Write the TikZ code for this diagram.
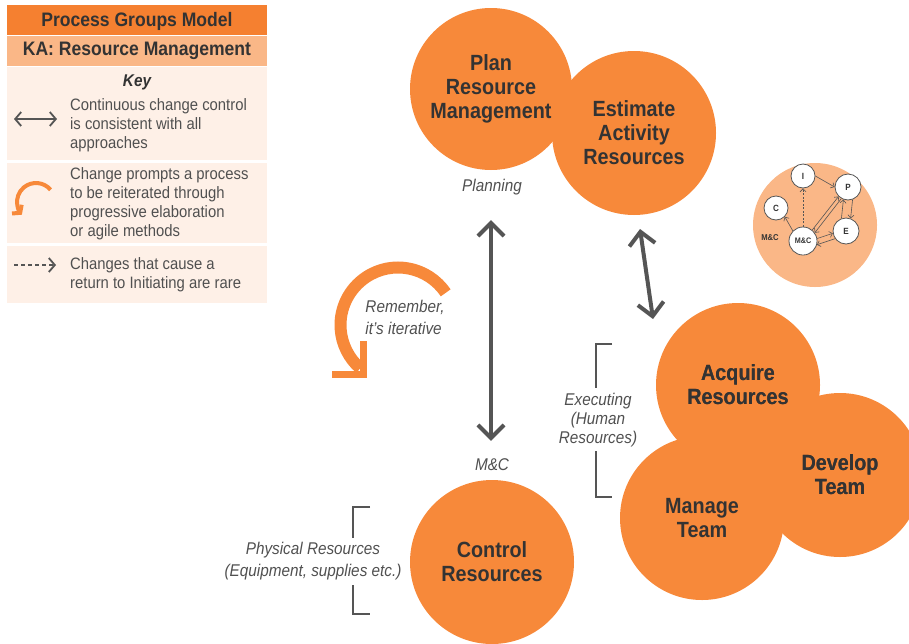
\documentclass[tikz,border=0pt]{standalone}
\usepackage{fontspec}
\setmainfont{Liberation Sans}[FakeStretch=0.9]
\usetikzlibrary{arrows.meta}
\definecolor{orM}{RGB}{247,137,58}
\definecolor{orD}{RGB}{245,128,48}
\definecolor{orL}{RGB}{250,183,135}
\definecolor{keybg}{RGB}{254,240,231}
\definecolor{txt}{RGB}{51,51,51}
\definecolor{gtxt}{RGB}{80,80,80}
\definecolor{arrc}{RGB}{85,85,85}
\tikzset{
  proc/.style={circle, fill=orM, minimum size=164pt, inner sep=0pt, align=center, text=txt,
    font=\bfseries\fontsize{22}{24}\selectfont},
  lbl/.style={font=\itshape\fontsize{17}{20}\selectfont, text=gtxt, align=center, inner sep=0pt},
  keytxt/.style={font=\fontsize{16.5}{19}\selectfont, text=gtxt, align=left, anchor=west, inner sep=0pt},
  dbl/.style={draw=arrc, line width=4pt, {Straight Barb[length=13pt,width=26pt]}-{Straight Barb[length=13pt,width=26pt]}},
  brk/.style={draw=arrc, line width=1.5pt},
  mini/.style={circle, draw=arrc, line width=0.8pt, fill=white, inner sep=0pt, text=txt,
    font=\bfseries\fontsize{9}{10}\selectfont},
  marr/.style={draw=arrc, line width=0.6pt, -{Straight Barb[length=3pt,width=6pt]}}
}
\begin{document}
\begin{tikzpicture}[x=1pt,y=-1pt]
\useasboundingbox (0,0) rectangle (909,643);
\clip (0,0) rectangle (909,643);

% ---------- key panel ----------
\fill[orD] (7,5) rectangle (267,35);
\fill[orL] (7,36) rectangle (267,66);
\fill[keybg] (7,67) rectangle (267,160);
\fill[keybg] (7,163) rectangle (267,243);
\fill[keybg] (7,246) rectangle (267,303);
\node[font=\bfseries\fontsize{19.5}{22}\selectfont, text=txt] (t1) at (137,21) {Process Groups Model};
\node[font=\bfseries\fontsize{19.5}{22}\selectfont, text=txt] (t2) at (137,51) {KA: Resource Management};
\node[font=\bfseries\itshape\fontsize{17}{20}\selectfont, text=txt] (key) at (137,82) {Key};

\coordinate (k1a) at (14,119); \coordinate (k1b) at (57,119);
\draw[draw=arrc, line width=1.8pt, {Straight Barb[length=6pt,width=14pt]}-{Straight Barb[length=6pt,width=14pt]}] (k1a) -- (k1b);
\node[keytxt] (kt1) at (70,125) {Continuous change control\\is consistent with all\\approaches};

\coordinate (k2c) at (36,202);
\draw[orM, line width=4pt, -{Straight Barb[length=5pt,width=13pt]}] ([shift={(-40:19)}]k2c) arc[start angle=-40, end angle=-222, radius=19];
\node[keytxt] (kt2) at (70,203.5) {Change prompts a process\\to be reiterated through\\progressive elaboration\\or agile methods};

\coordinate (k3a) at (14,265); \coordinate (k3b) at (56,265);
\draw[draw=arrc, line width=1.8pt, dash pattern=on 4pt off 3pt, -{Straight Barb[length=6pt,width=14pt]}] (k3a) -- (k3b);
\node[keytxt] (kt3) at (70,274.5) {Changes that cause a\\return to Initiating are rare};

% ---------- process circles ----------
\node[proc, minimum size=162pt] (plan) at (491,89) {Plan\\Resource\\Management};
\node[proc] (est) at (634,133) {Estimate\\Activity\\Resources};
\node[proc] (acq) at (738,385) {Acquire\\Resources};
\node[proc] (dev) at (840,475) {Develop\\Team};
\node[proc] (man) at (702,518) {Manage\\Team};
\node[proc] (ctrl) at (492,562) {Control\\Resources};
% redraw texts on top of overlaps
\node[text=txt, font=\bfseries\fontsize{22}{24}\selectfont, align=center] at (dev) {Develop\\Team};
\node[text=txt, font=\bfseries\fontsize{22}{24}\selectfont, align=center] at (acq) {Acquire\\Resources};

% ---------- labels ----------
\node[lbl] (lplan) at (492,187) {Planning};
\node[lbl] (lmc) at (492,465) {M\&C};
\node[lbl, align=left] (lrem) at (405,317) {Remember,\\[2pt] it’s iterative};
\node[lbl, font=\itshape\fontsize{17}{19}\selectfont] (lexe) at (598,420) {Executing\\(Human\\Resources)};
\node[lbl, font=\itshape\fontsize{17}{22}\selectfont] (lphy) at (313,561) {Physical Resources\\(Equipment, supplies etc.)};

% brackets
\draw[brk] (612,344) -- (596,344) -- (596,388);
\draw[brk] (596,451) -- (596,497) -- (612,497);
\draw[brk] (370,507) -- (353,507) -- (353,538);
\draw[brk] (353,585) -- (353,614) -- (370,614);

% ---------- double arrows ----------
\draw[dbl, shorten <=50pt, shorten >=39pt] (plan.south) -- (plan.south |- ctrl.north);
\coordinate (ea1) at (640,229); \coordinate (ea2) at (653,319);
\draw[dbl] (ea1) -- (ea2);

% ---------- iterative arrow ----------
\coordinate (ic) at (398,325);
\draw[orM, line width=12pt] ([shift={(-34:57.5)}]ic) arc[start angle=-34, end angle=-229, radius=57.5];
\draw[orM, line width=7pt, line join=miter] (363,341) -- (363,374) -- (332,374);

% ---------- mini diagram ----------
\node[circle, fill=orL, minimum size=124pt, inner sep=0pt] (mbg) at (815,225) {};
\node[mini, minimum size=24pt] (mI) at (803,176) {I};
\node[mini, minimum size=26pt] (mP) at (848,187) {P};
\node[mini, minimum size=24pt] (mC) at (776,208) {C};
\node[mini, minimum size=26pt] (mE) at (846,231) {E};
\node[mini, minimum size=28pt, font=\bfseries\fontsize{8}{9}\selectfont] (mM) at (803,241) {M\&C};
\node[text=txt, font=\bfseries\fontsize{8.5}{9}\selectfont] (mlab) at (770,238) {M\&C};
\draw[marr] (mI.east) -- (mP.west);
\draw[marr, dash pattern=on 2pt off 1.5pt] (mM.north) -- (mI.south);
\draw[marr] (mM.north west) -- (mC.south east);
\draw[marr] (mM.50) -- (mP.225);
\draw[marr] (mP.240) -- (mM.35);
\draw[marr] (mP.290) -- (mE.70);
\draw[marr] (mE.110) -- (mP.250);
\draw[marr] (mM.10) -- (mE.190);
\draw[marr] (mE.215) -- (mM.345);
\end{tikzpicture}
\end{document}
